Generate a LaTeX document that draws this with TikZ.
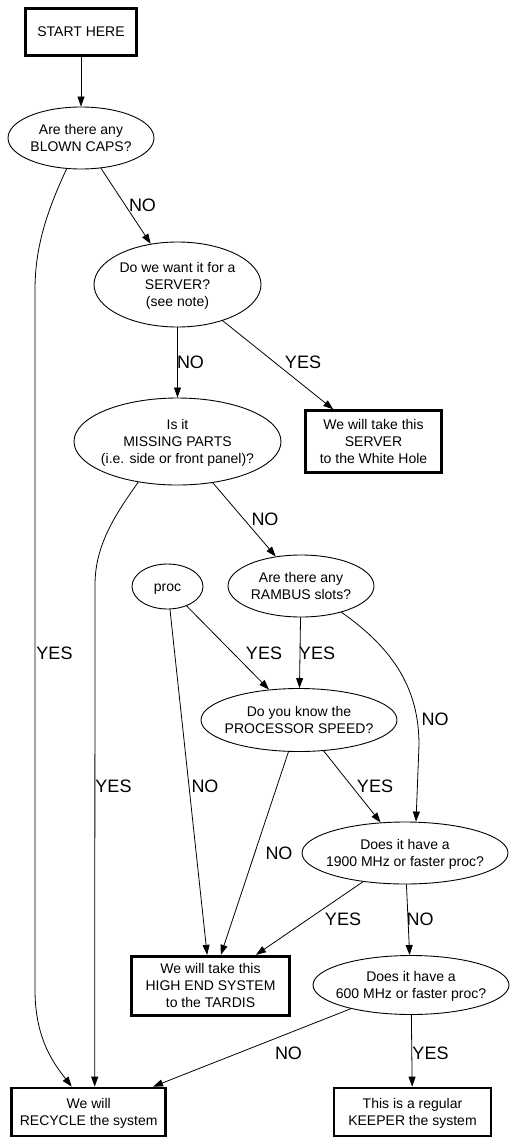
\documentclass[tikz,border=0pt]{standalone}
\usepackage{fontspec}
\setmainfont{Liberation Sans}
\usetikzlibrary{shapes.geometric,arrows.meta}
\newcommand{\ztext}[1]{\makebox[0pt][c]{\begin{tabular}{@{}c@{}}\rule{0pt}{15pt}#1\end{tabular}}}
\begin{document}
\begin{tikzpicture}[x=1pt,y=-1pt,
  every node/.style={font=\fontsize{14}{17}\selectfont, inner sep=0pt},
  ell/.style={ellipse, draw, line width=0.9pt},
  box/.style={rectangle, draw, line width=2.7pt},
  edge/.style={draw, line width=0.8pt, -{Triangle[length=10pt,width=7pt]}},
  lab/.style={font=\fontsize{18}{20}\selectfont}]
\useasboundingbox[fill=white] (0,0) rectangle (520,1143);

% nodes
\node[box, minimum width=111pt, minimum height=47pt] (start) at (81,32) {\ztext{START HERE}};
\node[ell, minimum width=146pt, minimum height=62pt] (blown) at (81,138) {\ztext{Are there any\\BLOWN CAPS?}};
\node[ell, minimum width=167pt, minimum height=85pt] (server) at (177.5,284.5) {\ztext{Do we want it for a\\SERVER?\\(see note)}};
\node[box, minimum width=135.7pt, minimum height=62pt] (white) at (373.5,441.7) {\ztext{We will take this\\SERVER\\to the White Hole}};
\node[ell, minimum width=207pt, minimum height=87pt] (missing) at (177.5,441.5) {\ztext{Is it\\MISSING PARTS\\(i.e. side or front panel)?}};
\node[ell, minimum width=71pt, minimum height=45pt] (proc) at (167.5,586.5) {\ztext{proc}};
\node[ell, minimum width=146pt, minimum height=62pt] (rambus) at (301,586) {\ztext{Are there any\\RAMBUS slots?}};
\node[ell, minimum width=196pt, minimum height=63pt] (speed) at (299,720) {\ztext{Do you know the\\PROCESSOR SPEED?}};
\node[ell, minimum width=206pt, minimum height=62pt] (mhz) at (405,853) {\ztext{Does it have a\\1900 MHz or faster proc?}};
\node[box, minimum width=158pt, minimum height=59.6pt] (high) at (210.5,986) {\ztext{We will take this\\HIGH END SYSTEM\\to the TARDIS}};
\node[ell, minimum width=196pt, minimum height=59pt] (six) at (411,985) {\ztext{Does it have a\\600 MHz or faster proc?}};
\node[box, minimum width=154pt, minimum height=48pt] (recycle) at (88.7,1112) {\ztext{We will\\RECYCLE the system}};
\node[box, minimum width=157pt, minimum height=48pt] (keeper) at (412.5,1112) {\ztext{This is a regular\\KEEPER the system}};

% connectors
\draw[edge] (start) -- (blown);
\draw[edge] (blown) -- (server);
\draw[edge] (blown.245) .. controls (45,215) and (35,250) .. (35,290) -- (35,990) .. controls (35,1040) and (55,1065) .. ([xshift=-17pt]recycle.north);
\draw[edge] (server) -- (missing);
\draw[edge] (server) -- (white);
\draw[edge] (missing) -- (rambus);
\draw[edge] (missing.226) .. controls (115,515) and (95,545) .. (95,585) -- ([xshift=6pt]recycle.north);
\draw[edge] (proc) -- (speed);
\draw[edge] (proc) -- (high);
\draw[edge] (rambus) -- (speed);
\draw[edge] (rambus.-33) .. controls (395,650) and (419,690) .. (419,745) -- ([xshift=11pt]mhz.north);
\draw[edge] (speed) -- (high);
\draw[edge] (speed) -- (mhz);
\draw[edge] (mhz) -- (high);
\draw[edge] (mhz) -- (six);
\draw[edge] (six) -- (recycle);
\draw[edge] (six) -- (keeper);

% labels
\node[lab] (l1) at (142.5,205) {NO};
\node[lab] (l2) at (54.5,653) {YES};
\node[lab] (l3) at (190.5,362) {NO};
\node[lab] (l4) at (303,362) {YES};
\node[lab] (l5) at (265,519) {NO};
\node[lab] (l6) at (113.5,786) {YES};
\node[lab] (l7) at (264,653) {YES};
\node[lab] (l8) at (317,653) {YES};
\node[lab] (l9) at (435,719.5) {NO};
\node[lab] (l10) at (205,786.5) {NO};
\node[lab] (l11) at (375,786.5) {YES};
\node[lab] (l12) at (279,853.5) {NO};
\node[lab] (l13) at (343,919.5) {YES};
\node[lab] (l14) at (420,919.5) {NO};
\node[lab] (l15) at (288.5,1053.5) {NO};
\node[lab] (l16) at (430.5,1053.5) {YES};
\end{tikzpicture}
\end{document}
